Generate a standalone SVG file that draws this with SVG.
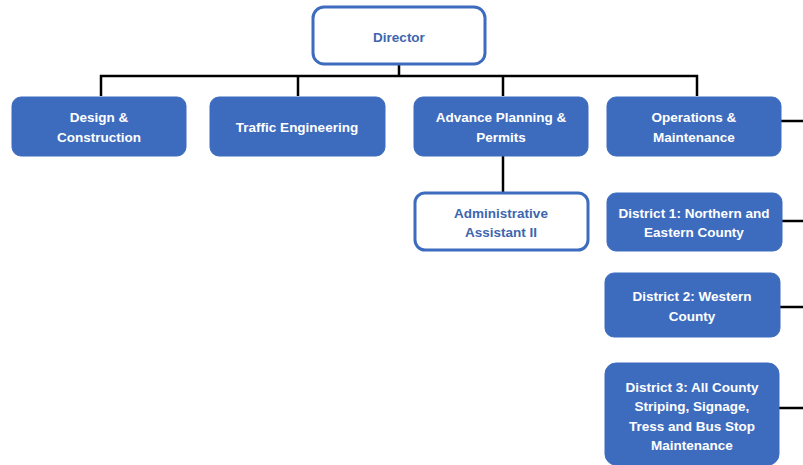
<svg xmlns="http://www.w3.org/2000/svg" width="803" height="465" viewBox="0 0 803 465">
<style>
.fill rect{fill:#3d6cbf;stroke:#3d6cbf;stroke-width:1}
.outline rect{fill:#fff;stroke:#3d6cbf;stroke-width:3}
text{font-family:"Liberation Sans",Arial,sans-serif;font-weight:bold;font-size:13.5px;text-anchor:middle}
.fill text{fill:#fff}
.outline text{fill:#3d66ae}
#connectors path{fill:none;stroke:#000;stroke-width:2.5}
</style>
<rect width="803" height="465" fill="#fff"/>
<g id="connectors">
<path d="M399 64V76M101 96V76H697V96M298 76V96M503 76V96"/>
<path d="M503 156V192"/>
<path d="M781 121H803M782 221H803M780 307H803M779 408H803"/>
</g>
<g id="director" class="outline"><rect x="313" y="7" width="172" height="57" rx="11"/><text x="399" y="42" font-size="14.5">Director</text></g>
<g id="design" class="fill"><rect x="12" y="97" width="174" height="59" rx="9"/><text x="99" y="122">Design &amp;</text><text x="99" y="142">Construction</text></g>
<g id="traffic" class="fill"><rect x="210" y="97" width="175" height="59" rx="9"/><text x="297" y="132">Traffic Engineering</text></g>
<g id="advance" class="fill"><rect x="414" y="97" width="174" height="59" rx="9"/><text x="501" y="122">Advance Planning &amp;</text><text x="501" y="142">Permits</text></g>
<g id="operations" class="fill"><rect x="607" y="97" width="174" height="59" rx="9"/><text x="694" y="122">Operations &amp;</text><text x="694" y="142">Maintenance</text></g>
<g id="admin" class="outline"><rect x="415" y="193" width="173" height="57" rx="10"/><text x="501" y="218">Administrative</text><text x="501" y="237">Assistant II</text></g>
<g id="district1" class="fill"><rect x="607" y="193" width="175" height="58" rx="9"/><text x="694" y="218">District 1: Northern and</text><text x="694" y="237">Eastern County</text></g>
<g id="district2" class="fill"><rect x="605" y="273" width="175" height="64" rx="9"/><text x="692" y="301">District 2: Western</text><text x="692" y="321">County</text></g>
<g id="district3" class="fill"><rect x="605" y="363" width="174" height="102" rx="11"/><text x="692" y="392">District 3: All County</text><text x="692" y="411">Striping, Signage,</text><text x="692" y="431">Tress and Bus Stop</text><text x="692" y="450">Maintenance</text></g>
</svg>
